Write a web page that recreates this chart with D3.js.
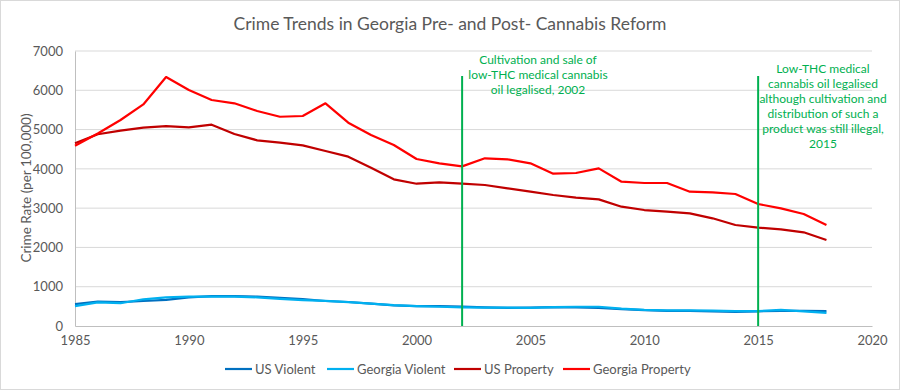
<!DOCTYPE html>
<html><head><meta charset="utf-8">
<script src="https://cdn.jsdelivr.net/npm/d3@7"></script>
<style>body{margin:0;background:#fff;} text{font-family:Lato,"Open Sans",sans-serif;}</style>
</head><body><svg id="c" width="900" height="390"></svg>
<script>
const years = d3.range(1985, 2019);
const usViolent = [556,620,610,637,663,730,758,758,747,714,685,637,611,568,523,507,505,494,476,463,469,480,472,458,432,404,387,387,369,362,373,387,383,380];
const gaViolent = [505,600,580,680,730,750,750,750,730,690,660,640,610,570,530,505,490,475,470,470,460,480,490,490,440,410,400,400,390,380,380,410,370,335];
const usProperty = [4650,4880,4972,5048,5090,5057,5124,4887,4726,4666,4599,4454,4310,4030,3733,3622,3657,3622,3589,3503,3419,3334,3266,3224,3037,2952,2910,2868,2741,2571,2503,2461,2385,2189];
const gaProperty = [4590,4900,5243,5640,6337,6007,5752,5668,5472,5327,5345,5668,5175,4861,4607,4250,4141,4064,4268,4242,4141,3877,3894,4013,3673,3640,3640,3419,3402,3360,3105,2995,2851,2571];
const seriesNames = ["US Violent","Georgia Violent","US Property","Georgia Property"];
const seriesColors = ["#0070C0","#00B0F0","#C00000","#FF0000"];
const xTicks = [1985,1990,1995,2000,2005,2010,2015,2020];
const yTicks = [0,1000,2000,3000,4000,5000,6000,7000];
const events = [
  {year:2002, lines:["Cultivation and sale of","low-THC medical cannabis","oil legalised, 2002"], tx:538, ty:60},
  {year:2015, lines:["Low-THC medical","cannabis oil legalised","although cultivation and","distribution of such a","product was still illegal,","2015"], tx:823, ty:69}
];

const svg = d3.select("#c");
svg.append("rect").attr("x",0.5).attr("y",0.5).attr("width",899).attr("height",389).attr("fill","#fff").attr("stroke","#d9d9d9");
const x = d3.scaleLinear().domain([1985,2020]).range([75,872]);
const y = d3.scaleLinear().domain([0,7000]).range([326,51]);

svg.append("text").attr("x",450).attr("y",30).attr("text-anchor","middle").attr("fill","#595959").style("font-size","17.5px").text("Crime Trends in Georgia Pre- and Post- Cannabis Reform");

// grid
svg.append("g").selectAll("line").data(yTicks.slice(1)).join("line")
  .attr("x1",x(1985)).attr("x2",x(2020)).attr("y1",d=>y(d)).attr("y2",d=>y(d)).attr("stroke","#d9d9d9").attr("stroke-width",1);

const yAxis = svg.append("g").attr("transform",`translate(${x(1985)},0)`).call(d3.axisLeft(y).tickValues(yTicks).tickSize(0).tickPadding(12).tickFormat(d3.format("d")));
yAxis.select(".domain").attr("stroke","#bfbfbf");
yAxis.selectAll("text").attr("fill","#595959").style("font-size","13px").style("font-family","Lato,'Open Sans',sans-serif");

const xAxis = svg.append("g").attr("transform",`translate(0,${y(0)})`).call(d3.axisBottom(x).tickValues(xTicks).tickSize(0).tickPadding(10).tickFormat(d3.format("d")));
xAxis.select(".domain").attr("stroke","#bfbfbf");
xAxis.selectAll("text").attr("fill","#595959").style("font-size","13px").style("font-family","Lato,'Open Sans',sans-serif");

svg.append("text").attr("transform","translate(31,188) rotate(-90)").attr("text-anchor","middle").attr("fill","#595959").style("font-size","13.5px").text("Crime Rate (per 100,000)");

const data = [usViolent,gaViolent,usProperty,gaProperty];
const line = d3.line().x((d,i)=>x(years[i])).y(d=>y(d));
data.forEach((s,k)=>{
  svg.append("path").datum(s).attr("d",line).attr("fill","none").attr("stroke",seriesColors[k]).attr("stroke-width",2.2).attr("stroke-linejoin","round");
});

events.forEach(e=>{
  svg.append("line").attr("x1",x(e.year)).attr("x2",x(e.year)).attr("y1",76).attr("y2",y(0)).attr("stroke","#00B050").attr("stroke-width",2);
  const t = svg.append("text").attr("text-anchor","middle").attr("fill","#00B050").style("font-size","12px");
  e.lines.forEach((l,i)=>t.append("tspan").attr("x",e.tx).attr("y",e.ty+4+i*15).text(l));
});

// legend
const legX = [225,327,454,563];
seriesNames.forEach((n,k)=>{
  svg.append("line").attr("x1",legX[k]).attr("x2",legX[k]+27).attr("y1",369).attr("y2",369).attr("stroke",seriesColors[k]).attr("stroke-width",2.2);
  svg.append("text").attr("x",legX[k]+30).attr("y",373.5).attr("fill","#595959").style("font-size","13px").text(n);
});
</script></body></html>
